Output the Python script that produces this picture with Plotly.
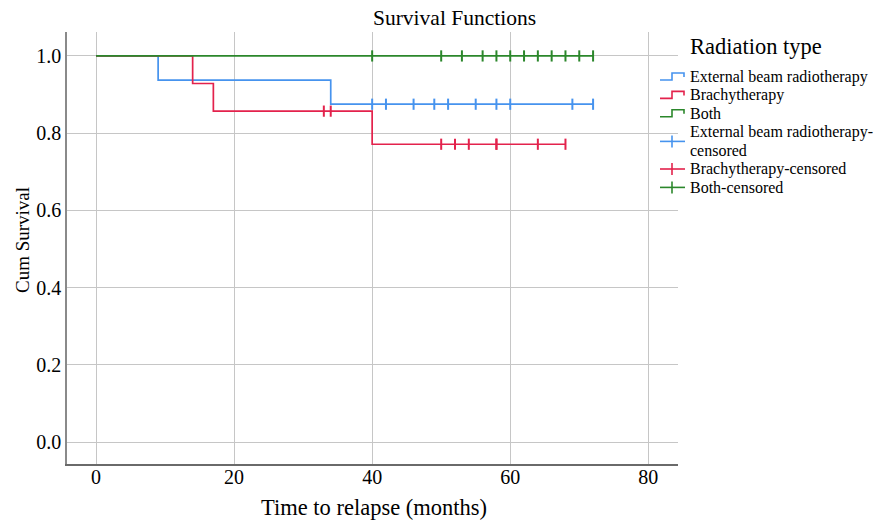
import plotly.graph_objects as go

# ---- data ----
ebrt_time = [0, 9, 34, 72]
ebrt_surv = [1.0, 0.9375, 0.875, 0.875]
ebrt_cens = [40, 42, 46, 49, 51, 55, 58, 60, 69, 72]

brachy_time = [0, 14, 17, 40, 68]
brachy_surv = [1.0, 0.9286, 0.8571, 0.7714, 0.7714]
brachy_cens = [33, 34, 50, 52, 54, 58, 58, 64, 68]

both_time = [0, 72]
both_surv = [1.0, 1.0]
both_cens = [40, 50, 53, 56, 58, 60, 62, 64, 66, 68, 70, 72]

x_ticks = [0, 20, 40, 60, 80]
y_ticks = [0.0, 0.2, 0.4, 0.6, 0.8, 1.0]

legend_title = "Radiation type"
legend_labels = ["External beam radiotherapy", "Brachytherapy", "Both",
                 ["External beam radiotherapy-", "censored"], "Brachytherapy-censored", "Both-censored"]

BLUE = "#4693ee"
RED = "#e3224c"
GREEN = "#2b872b"
FONT = "Liberation Serif, Times New Roman, serif"

W, H = 896, 521
L, R, T, B = 67, 678, 32, 464


def px(x):
    return (x - L) / (R - L)


def py(y):
    return (B - y) / (B - T)


def surv_at(times, surv, t):
    s = surv[0]
    for ti, si in zip(times, surv):
        if ti <= t:
            s = si
    return s


fig = go.Figure()

groups = [
    (ebrt_time, ebrt_surv, ebrt_cens, BLUE),
    (brachy_time, brachy_surv, brachy_cens, RED),
    (both_time, both_surv, both_cens, GREEN),
]

for (t, s, c, col), name in zip(groups, legend_labels[:3]):
    fig.add_trace(go.Scatter(x=t, y=s, mode="lines", line=dict(color=col, width=1.7, shape="hv"),
                             name=name, showlegend=False))

for (t, s, c, col), name in zip(groups, legend_labels[3:]):
    nm = "".join(name) if isinstance(name, list) else name
    fig.add_trace(go.Scatter(x=c, y=[surv_at(t, s, ci) for ci in c], mode="markers",
                             marker=dict(symbol="line-ns", size=8, line=dict(color=col, width=2)),
                             name=nm, showlegend=False))

# ---- custom legend (layout only) ----
shapes = []
annotations = []
annotations.append(dict(text=legend_title, x=px(688), y=py(47), xref="paper", yref="paper",
                        xanchor="left", yanchor="middle", showarrow=False,
                        font=dict(family=FONT, size=22.5, color="black")))
STEP = 18.4
row_y = [77, 77 + STEP, 77 + 2 * STEP, [77 + 3 * STEP, 77 + 4 * STEP], 77 + 5 * STEP, 77 + 6 * STEP]
icon_y = [77, 77 + STEP, 77 + 2 * STEP, 77 + 3.5 * STEP, 77 + 5 * STEP, 77 + 6 * STEP]
colors = [BLUE, RED, GREEN, BLUE, RED, GREEN]
for i, (lab, col, yy, iy) in enumerate(zip(legend_labels, colors, row_y, icon_y)):
    labs = lab if isinstance(lab, list) else [lab]
    ys = yy if isinstance(yy, list) else [yy]
    for tline, ty in zip(labs, ys):
        annotations.append(dict(text=tline, x=px(688), y=py(ty), xref="paper", yref="paper",
                                xanchor="left", yanchor="middle", align="left", showarrow=False,
                                font=dict(family=FONT, size=16, color="black")))
    if i < 3:
        x0, xm, x1 = px(660), px(672), px(684)
        ylo, yhi, yend = py(iy + 3), py(iy - 4), py(iy)
        shapes.append(dict(type="path", xref="paper", yref="paper",
                           path=f"M {x0} {ylo} L {xm} {ylo} L {xm} {yhi} L {x1} {yhi} L {x1} {yend}",
                           line=dict(color=col, width=1.6)))
    else:
        shapes.append(dict(type="line", xref="paper", yref="paper", x0=px(660), x1=px(685),
                           y0=py(iy), y1=py(iy), line=dict(color=col, width=1.6)))
        shapes.append(dict(type="line", xref="paper", yref="paper", x0=px(672), x1=px(672),
                           y0=py(iy - 6), y1=py(iy + 6), line=dict(color=col, width=1.6)))

annotations.append(dict(text="Survival Functions", x=px(454), y=py(18), xref="paper", yref="paper",
                        xanchor="center", yanchor="middle", showarrow=False,
                        font=dict(family=FONT, size=21.5, color="black")))
annotations.append(dict(text="Time to relapse (months)", x=px(374), y=py(507), xref="paper", yref="paper",
                        xanchor="center", yanchor="middle", showarrow=False,
                        font=dict(family=FONT, size=22.5, color="black")))
annotations.append(dict(text="Cum Survival", x=px(22), y=py(240), xref="paper", yref="paper",
                        xanchor="center", yanchor="middle", showarrow=False, textangle=-90,
                        font=dict(family=FONT, size=19, color="black")))

fig.update_layout(
    width=W, height=H,
    margin=dict(l=L, r=W - R, t=T, b=H - B, autoexpand=False),
    paper_bgcolor="white", plot_bgcolor="white",
    font=dict(family=FONT, color="black", size=20),
    showlegend=False,
    shapes=shapes,
    annotations=annotations,
)

fig.update_xaxes(range=[-4.2, 84.3], tickvals=x_ticks, ticktext=[str(v) for v in x_ticks],
                 showgrid=True, gridcolor="#c6c6c6", gridwidth=1, zeroline=False,
                 showline=True, linecolor="#6a6a6a", linewidth=1.5,
                 ticks="", ticklabelstandoff=-6, tickfont=dict(family=FONT, size=20), automargin=False)
fig.update_yaxes(range=[-0.0566, 1.062], tickvals=y_ticks, ticktext=[f"{v:.1f}" for v in y_ticks],
                 showgrid=True, gridcolor="#c6c6c6", gridwidth=1, zeroline=False,
                 showline=True, linecolor="#8a8a8a", linewidth=1.5,
                 ticks="", tickfont=dict(family=FONT, size=20), automargin=False)

fig.write_html("out.html", config={"displayModeBar": False},
               post_script="document.body.style.margin='0';document.body.style.padding='0';")
